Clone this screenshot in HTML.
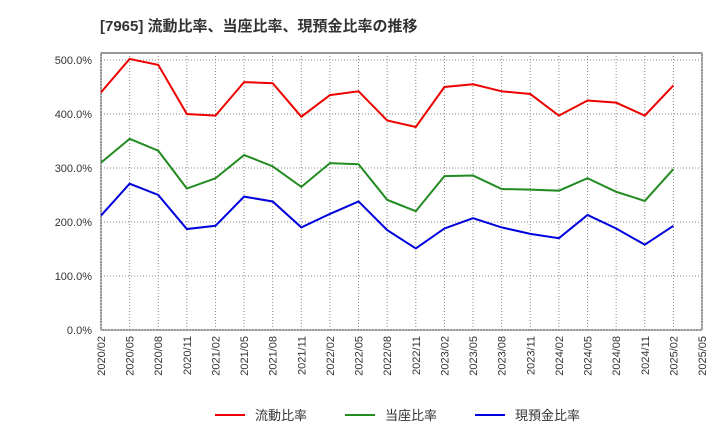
<!DOCTYPE html>
<html><head><meta charset="utf-8"><style>
body{margin:0;background:#fff;font-family:"Liberation Sans","Noto Sans CJK JP",sans-serif;}
</style></head><body>
<svg width="720" height="440" xmlns="http://www.w3.org/2000/svg">
<text x="100" y="31" font-size="15" font-weight="bold" fill="#333" font-family="Liberation Sans, Noto Sans CJK JP, sans-serif">[7965]  流動比率、当座比率、現預金比率の推移</text>
<g id="grid"></g><g id="axes"></g><g id="series"></g><g id="legend"></g>
</svg>
<script>
const categories=["2020/02","2020/05","2020/08","2020/11","2021/02","2021/05","2021/08","2021/11","2022/02","2022/05","2022/08","2022/11","2023/02","2023/05","2023/08","2023/11","2024/02","2024/05","2024/08","2024/11","2025/02","2025/05"];
const currentRatio=[440,502,491,400,397,459,457,395,435,442,388,376,450,455,442,437,397,425,421,397,453];
const quickRatio=[310,354,332,262,281,324,303,265,309,307,241,220,285,286,261,260,258,281,256,239,298];
const cashRatio=[212,271,250,187,193,247,238,190,215,238,185,151,188,207,190,178,170,213,188,158,193];
const yTicks=[0,100,200,300,400,500];
const seriesNames=["流動比率","当座比率","現預金比率"];
const colors=["#e00","#228b22","#00d"];
const NS="http://www.w3.org/2000/svg";
const L=101,R=702,T=53,B=330;
const x=i=>L+(R-L)*i/(categories.length-1);
const y=v=>B-(v/500)*270;
function mk(tag,attrs,parent){const e=document.createElementNS(NS,tag);for(const k in attrs)e.setAttribute(k,attrs[k]);document.getElementById(parent).appendChild(e);return e;}
const bg=mk('rect',{x:L,y:T,width:R-L,height:B-T,fill:"#fff",stroke:"#333","stroke-width":1},'grid');


yTicks.forEach(v=>{
 const g=mk('line',{x1:L,x2:R,y1:y(v),y2:y(v),stroke:"#888","stroke-dasharray":"1,2"},'grid');
 
 
 const t=mk('text',{x:92,y:y(v)+4,"text-anchor":"end","font-size":11,fill:"#333"},'axes');
 t.textContent=v.toFixed(1)+"%";
 
 
});
categories.forEach((c,i)=>{
 const g=mk('line',{x1:x(i),x2:x(i),y1:T,y2:B,stroke:"#888","stroke-dasharray":"1,2"},'grid');
 
 
 const t=mk('text',{x:0,y:0,"text-anchor":"end","font-size":11,fill:"#333",transform:`translate(${x(i)+4},${B+6}) rotate(-90)`},'axes');
 t.textContent=c;
 
 
});
[currentRatio,quickRatio,cashRatio].forEach((d,s)=>{
 const p=mk('polyline',{points:d.map((v,i)=>x(i)+","+y(v)).join(" "),fill:"none",stroke:colors[s],"stroke-width":2},'series');
 
 
 const lx=[215,345,475][s];
 const ll=mk('line',{x1:lx,x2:lx+30,y1:415,y2:415,stroke:colors[s],"stroke-width":2},'legend');
 
 
 const lt=mk('text',{x:lx+40,y:420,"font-size":13,fill:"#333"},'legend');
 lt.textContent=seriesNames[s];
 
 
});
</script>
</body></html>
